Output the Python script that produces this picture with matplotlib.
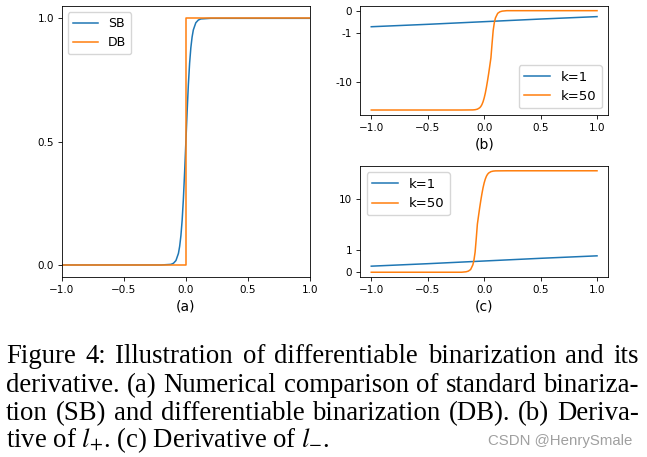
import matplotlib
matplotlib.use('Agg')
import matplotlib.pyplot as plt
from matplotlib.ticker import NullLocator

plt.rcParams['mathtext.fontset'] = 'stix'

# (a) standard vs differentiable binarization
a_x_sb = [-1.0, -0.2, -0.12, -0.1, -0.08, -0.06, -0.05, -0.04, -0.03, -0.02, -0.01,
          0.0, 0.01, 0.02, 0.03, 0.04, 0.05, 0.06, 0.08, 0.1, 0.12, 0.2, 1.0]
a_sb = [0.0, 0.0, 0.0025, 0.007, 0.018, 0.047, 0.076, 0.119, 0.182, 0.269, 0.378,
        0.5, 0.622, 0.731, 0.818, 0.881, 0.924, 0.953, 0.982, 0.993, 0.9975, 1.0, 1.0]
a_x_db = [-1.0, 0.0, 0.0, 1.0]
a_db = [0.0, 0.0, 1.0, 1.0]

# (b) derivative of l+, (c) derivative of l-
k1_x = [-1.0, -0.5, 0.0, 0.5, 1.0]
b_k1 = [-0.73, -0.62, -0.5, -0.38, -0.27]
c_k1 = [0.27, 0.38, 0.5, 0.62, 0.73]

b_x_k50 = [-1.0, -0.2, -0.1, -0.08, -0.06, -0.04, -0.03, -0.02, -0.01, 0.0, 0.01, 0.02,
           0.03, 0.04, 0.05, 0.06, 0.07, 0.08, 0.09, 0.1, 0.12, 0.14, 0.16, 0.2, 1.0]
b_k50 = [-50.0, -50.0, -49.7, -49.1, -47.6, -44.0, -40.9, -36.6, -31.1, -25.0, -18.9, -13.4,
         -9.1, -6.0, -3.8, -2.4, -1.5, -0.9, -0.55, -0.33, -0.12, -0.05, -0.02, 0.0, 0.0]

c_x_k50 = [-1.0, -0.2, -0.16, -0.14, -0.12, -0.1, -0.09, -0.08, -0.07, -0.06, -0.05, -0.04,
           -0.03, -0.02, -0.01, 0.0, 0.01, 0.02, 0.03, 0.04, 0.06, 0.08, 0.1, 0.2, 1.0]
c_k50 = [0.0, 0.0, 0.02, 0.05, 0.12, 0.33, 0.55, 0.9, 1.5, 2.4, 3.8, 6.0,
         9.1, 13.4, 18.9, 25.0, 31.1, 36.6, 40.9, 44.0, 47.6, 49.1, 49.7, 50.0, 50.0]

x_ticks = [-1.0, -0.5, 0.0, 0.5, 1.0]
a_yticks = [0.0, 0.5, 1.0]
b_yticks = [0, -1, -10]
b_yticklabels = ['0', '-1', '-10']
c_yticks = [0, 1, 10]
c_yticklabels = ['0', '1', '10']

caption_lines = [
    'Figure 4: Illustration of differentiable binarization and its',
    'derivative. (a) Numerical comparison of standard binariza-',
    'tion (SB) and differentiable binarization (DB). (b) Deriva-',
]
caption_last = r'tive of $l_{+}$. (c) Derivative of $l_{-}$.'

blue = '#1f77b4'
orange = '#ff7f0e'
lw = 1.1

fig = plt.figure(figsize=(6.47, 4.57), dpi=100)
W, H = 647, 457

ax_a = fig.add_axes([0.0954, 0.3932, 0.3838, 0.5937])
ax_b = fig.add_axes([0.5564, 0.7484, 0.3838, 0.2391])
ax_c = fig.add_axes([0.5564, 0.3932, 0.3838, 0.2442])

ax_a.plot(a_x_sb, a_sb, color=blue, lw=lw, label='SB')
ax_a.plot(a_x_db, a_db, color=orange, lw=lw, label='DB')
ax_a.set_xlim(-1, 1)
ax_a.set_yticks(a_yticks)
ax_a.legend(loc='upper left', fontsize=9)
ax_a.set_xlabel('(a)', fontsize=10, labelpad=3.5)

ax_b.plot(k1_x, b_k1, color=blue, lw=lw, label='k=1')
ax_b.plot(b_x_k50, b_k50, color=orange, lw=lw, label='k=50')
ax_b.set_yscale('symlog')
ax_b.set_yticks(b_yticks)
ax_b.set_yticklabels(b_yticklabels)
ax_b.legend(loc='lower right', fontsize=9.5)
ax_b.set_xlabel('(b)', fontsize=10, labelpad=3.5)

ax_c.plot(k1_x, c_k1, color=blue, lw=lw, label='k=1')
ax_c.plot(c_x_k50, c_k50, color=orange, lw=lw, label='k=50')
ax_c.set_yscale('symlog')
ax_c.set_yticks(c_yticks)
ax_c.set_yticklabels(c_yticklabels)
ax_c.legend(loc='upper left', fontsize=9.5)
ax_c.set_xlabel('(c)', fontsize=10, labelpad=3.5)

for ax in (ax_a, ax_b, ax_c):
    ax.set_xticks(x_ticks)
    ax.yaxis.set_minor_locator(NullLocator())
    ax.tick_params(labelsize=7.5, length=3, width=0.6, pad=2.5)
    for s in ax.spines.values():
        s.set_linewidth(0.6)

# caption, justified like the paper
cap_fs = 19.3
renderer = fig.canvas.get_renderer()
x0, x1 = 6, 639
baselines = [363, 391.7, 420, 446.7]
for line, yb in zip(caption_lines, baselines):
    words = line.split()
    texts = [fig.text(0, 1 - yb / H, w, fontsize=cap_fs, family='Liberation Serif',
                      va='baseline', color='black') for w in words]
    widths = [t.get_window_extent(renderer).width for t in texts]
    gap = (x1 - x0 - sum(widths)) / (len(words) - 1)
    x = x0
    for t, w in zip(texts, widths):
        t.set_x(x / W)
        x += w + gap
fig.text(x0 / W, 1 - baselines[3] / H, caption_last, fontsize=cap_fs,
         family='Liberation Serif', va='baseline', color='black')

fig.text(632 / W, 1 - 445 / H, 'CSDN @HenrySmale', ha='right', va='baseline',
         fontsize=10.8, family='Liberation Sans', color='#a0a0a0')

fig.savefig('out.png', dpi=100)
